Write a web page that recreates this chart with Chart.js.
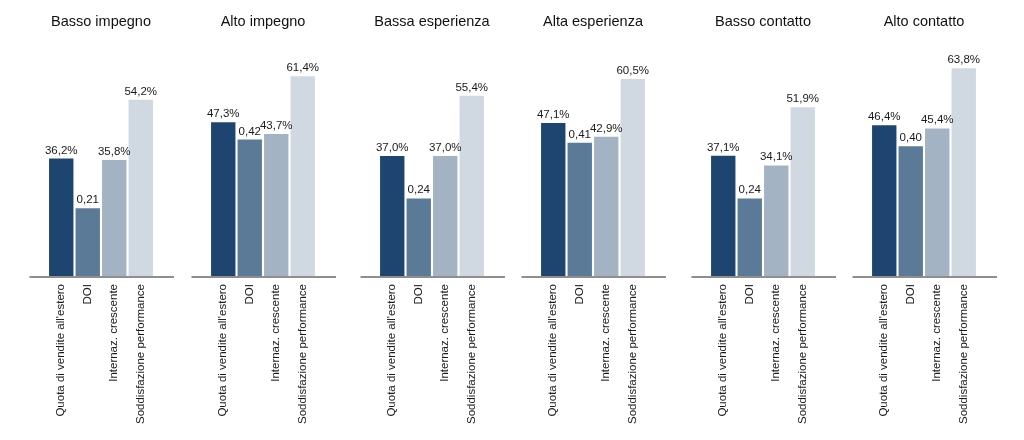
<!DOCTYPE html>
<html>
<head>
<meta charset="utf-8">
<script src="https://cdn.jsdelivr.net/npm/chart.js@4/dist/chart.umd.min.js"></script>
<style>
  html, body { margin: 0; padding: 0; background: #ffffff; }
  #wrap { position: relative; width: 1024px; height: 440px; overflow: hidden; background: #fff; }
  .panel { position: absolute; top: 0; width: 146px; height: 440px; }
</style>
</head>
<body>
<div id="wrap"></div>
<script>
// ---- Data ----
const panelTitles = ["Basso impegno", "Alto impegno", "Bassa esperienza", "Alta esperienza", "Basso contatto", "Alto contatto"];
const categories = ["Quota di vendite all'estero", "DOI", "Internaz. crescente", "Soddisfazione performance"];
const quotaVendite = [36.2, 47.3, 37.0, 47.1, 37.1, 46.4];   // %
const doi = [0.21, 0.42, 0.24, 0.41, 0.24, 0.40];             // index (0-1)
const internazCrescente = [35.8, 43.7, 37.0, 42.9, 34.1, 45.4]; // %
const soddisfazione = [54.2, 61.4, 55.4, 60.5, 51.9, 63.8];   // %

// ---- Styling / layout ----
const barColors = ["#1e4470", "#5b7a98", "#a3b3c4", "#d0d8e2"];
const chartAreaLefts = [48, 210, 379, 540, 710, 871];
const SIDE_W = 20, AREA_W = 106;
const FONT = "'Liberation Sans', Arial, Helvetica, sans-serif";

const fmtPct = v => v.toFixed(1).replace('.', ',') + '%';
const fmtDoi = v => v.toFixed(2).replace('.', ',');

const baselinePlugin = {
  id: 'baseline',
  afterDatasetsDraw(chart) {
    const ctx = chart.ctx, a = chart.chartArea;
    const y = chart.scales.y.getPixelForValue(0);
    ctx.save();
    ctx.strokeStyle = '#8f8f8f';
    ctx.lineWidth = 2;
    ctx.beginPath();
    ctx.moveTo(a.left - 18.5, y);
    ctx.lineTo(a.right + 20, y);
    ctx.stroke();
    ctx.restore();
  }
};

const valueLabelPlugin = {
  id: 'valueLabels',
  afterDatasetsDraw(chart) {
    const ctx = chart.ctx;
    const meta = chart.getDatasetMeta(0);
    const labels = chart.data.datasets[0].valueLabels;
    ctx.save();
    ctx.font = '11.5px ' + FONT;
    ctx.fillStyle = '#1a1a1a';
    ctx.textAlign = 'center';
    ctx.textBaseline = 'alphabetic';
    meta.data.forEach((bar, i) => {
      ctx.fillText(labels[i], bar.x, bar.y - 5);
    });
    ctx.restore();
  }
};

const hiddenSide = (pos) => ({
  position: pos,
  display: true,
  grid: { display: false, drawTicks: false },
  border: { display: false },
  ticks: { display: false },
  afterFit(s) { s.width = SIDE_W; }
});

const wrap = document.getElementById('wrap');
panelTitles.forEach((title, p) => {
  const div = document.createElement('div');
  div.className = 'panel';
  div.style.left = (chartAreaLefts[p] - SIDE_W) + 'px';
  const cv = document.createElement('canvas');
  div.appendChild(cv);
  wrap.appendChild(div);

  const values = [quotaVendite[p], doi[p] * 100, internazCrescente[p], soddisfazione[p]];
  const valueLabels = [fmtPct(quotaVendite[p]), fmtDoi(doi[p]), fmtPct(internazCrescente[p]), fmtPct(soddisfazione[p])];

  new Chart(cv, {
    type: 'bar',
    data: {
      labels: categories,
      datasets: [{
        data: values,
        valueLabels: valueLabels,
        backgroundColor: barColors,
        borderWidth: 0,
        categoryPercentage: 1.0,
        barPercentage: 0.92
      }]
    },
    options: {
      responsive: true,
      maintainAspectRatio: false,
      animation: false,
      layout: { padding: 0 },
      plugins: {
        legend: { display: false },
        tooltip: { enabled: false },
        title: {
          display: true,
          text: title,
          color: '#111111',
          font: { family: FONT, size: 14.5, weight: 'normal', lineHeight: 1.2 },
          padding: { top: 13.5, bottom: 17.1 }
        }
      },
      scales: {
        y: Object.assign(hiddenSide('left'), { min: 0, max: 70 }),
        yRight: hiddenSide('right'),
        x: {
          grid: { display: false, drawTicks: false },
          border: { display: false },
          ticks: {
            color: '#1a1a1a',
            font: { family: FONT, size: 11.5 },
            minRotation: 90,
            maxRotation: 90,
            padding: 7,
            autoSkip: false
          },
          afterFit(scale) { scale.height = 163; }
        }
      }
    },
    plugins: [baselinePlugin, valueLabelPlugin]
  });
});
</script>
</body>
</html>
